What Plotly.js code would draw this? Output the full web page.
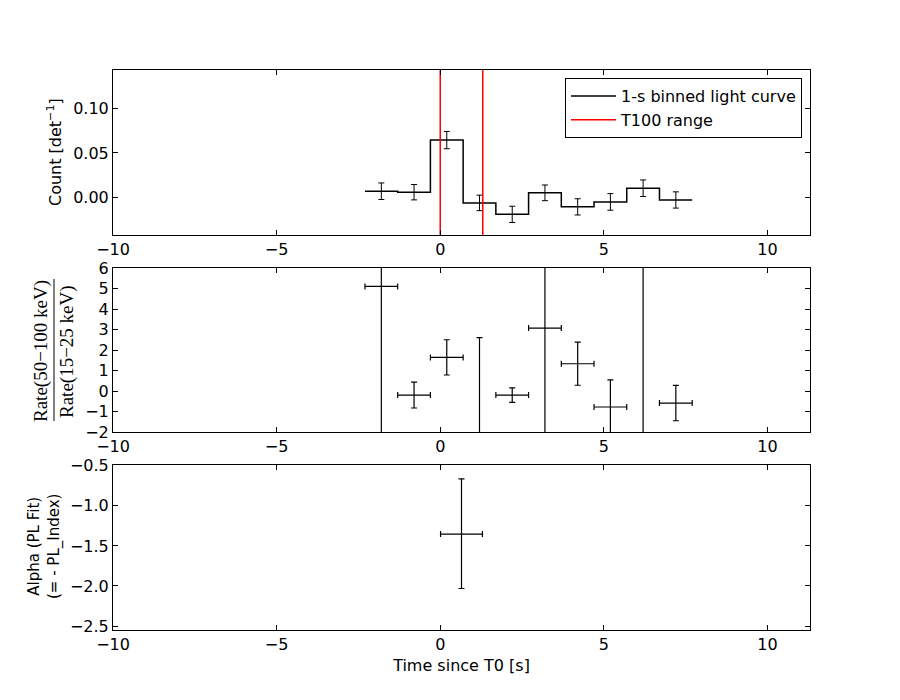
<!DOCTYPE html>
<html>
<head>
<meta charset="utf-8">
<script src="https://cdn.plot.ly/plotly-3.0.1.min.js"></script>
<style>html,body{margin:0;padding:0;background:#fff;}#chart{width:900px;height:700px;}</style>
</head>
<body>
<div id="chart"></div>
<script>
// ---- data ----
const binEdges = [-2.3, -1.3, -0.3, 0.7, 1.7, 2.7, 3.7, 4.7, 5.7, 6.7, 7.7];
const binCenters = [-1.8, -0.8, 0.2, 1.2, 2.2, 3.2, 4.2, 5.2, 6.2, 7.2];
const counts = [0.0066, 0.0055, 0.0646, -0.0066, -0.0196, 0.0048, -0.0111, -0.0055, 0.0100, -0.0033];
const countErr = [0.0094, 0.0087, 0.0098, 0.0088, 0.0092, 0.0089, 0.0092, 0.0094, 0.0094, 0.0092];
const t100 = [0.0, 1.3];
const ratio = [5.1, -0.2, 1.64, -2.6, -0.2, 3.07, 1.33, -0.78, 7.5, -0.59];
const ratioErr = [9.0, 0.63, 0.86, 5.2, 0.35, 8.0, 1.05, 1.32, 12.0, 0.86];
const ratioXErr = [0.5, 0.5, 0.5, 0.5, 0.5, 0.5, 0.5, 0.5, 0.5, 0.5];
const alphaT = [0.65];
const alphaVal = [-1.352];
const alphaErrPlus = [0.69];
const alphaErrMinus = [0.68];
const alphaXErr = [0.64];
const xRange = [-10, 11.3];
const y1Range = [-0.043, 0.144];
const y2Range = [-2, 6];
const y3Range = [-2.55, -0.49];

// ---- traces ----
const stepY = counts.concat([counts[counts.length - 1]]);
const font = {family: 'DejaVu Sans', size: 16, color: '#000'};
const traces = [
  {x: binEdges, y: stepY, mode: 'lines', line: {shape: 'hv', color: '#000', width: 1.5},
   name: '1-s binned light curve', xaxis: 'x', yaxis: 'y'},
  {x: binCenters, y: counts, mode: 'markers', marker: {size: 1, color: '#000', opacity: 0},
   error_y: {type: 'data', array: countErr, color: '#000', thickness: 1, width: 3},
   showlegend: false, hoverinfo: 'skip', xaxis: 'x', yaxis: 'y'},
  {x: [t100[0], t100[0], null, t100[1], t100[1]],
   y: [y1Range[0], y1Range[1], null, y1Range[0], y1Range[1]],
   mode: 'lines', line: {color: '#ff0000', width: 1.5}, name: 'T100 range', xaxis: 'x', yaxis: 'y'},
  {x: binCenters, y: ratio, mode: 'markers', marker: {size: 1, color: '#000', opacity: 0},
   error_y: {type: 'data', array: ratioErr, color: '#000', thickness: 1.2, width: 3},
   error_x: {type: 'data', array: ratioXErr, color: '#000', thickness: 1.2, width: 3},
   showlegend: false, hoverinfo: 'skip', xaxis: 'x2', yaxis: 'y2'},
  {x: alphaT, y: alphaVal, mode: 'markers', marker: {size: 1, color: '#000', opacity: 0},
   error_y: {type: 'data', symmetric: false, array: alphaErrPlus, arrayminus: alphaErrMinus, color: '#000', thickness: 1.2, width: 3},
   error_x: {type: 'data', array: alphaXErr, color: '#000', thickness: 1.2, width: 3},
   showlegend: false, hoverinfo: 'skip', xaxis: 'x3', yaxis: 'y3'}
];

function xa(anchor) {
  return {domain: [113/900, 810/900], range: xRange, anchor: anchor, showgrid: false, zeroline: false,
    showline: true, linecolor: '#000', linewidth: 1, mirror: 'allticks', ticks: 'inside', ticklen: 5,
    tickcolor: '#000', tickvals: [-10, -5, 0, 5, 10], tickfont: font};
}
function ya(anchor, dom, rng, tv, fmt) {
  return {domain: dom, range: rng, anchor: anchor, showgrid: false, zeroline: false,
    showline: true, linecolor: '#000', linewidth: 1, mirror: 'allticks', ticks: 'inside', ticklen: 5,
    tickcolor: '#000', tickvals: tv, tickformat: fmt, tickfont: font};
}

const layout = {
  width: 900, height: 700, margin: {l: 0, r: 0, t: 0, b: 0},
  paper_bgcolor: '#fff', plot_bgcolor: '#fff', font: font,
  showlegend: true,
  legend: {x: 802/900, y: 1 - 78/700, xanchor: 'right', yanchor: 'top', bgcolor: '#fff',
    bordercolor: '#000', borderwidth: 1, itemwidth: 45, tracegroupgap: 0,
    font: {family: 'DejaVu Sans', size: 16, color: '#000'}},
  xaxis: xa('y'), xaxis2: xa('y2'), xaxis3: Object.assign(xa('y3'), {title: {text: 'Time since T0 [s]', font: {family: 'DejaVu Sans', size: 16}, standoff: 6}}),
  yaxis: ya('x', [1 - 235/700, 1 - 70/700], y1Range, [0, 0.05, 0.10], '.2f'),
  yaxis2: ya('x2', [1 - 432/700, 1 - 268/700], y2Range, [-2, -1, 0, 1, 2, 3, 4, 5, 6], 'd'),
  yaxis3: ya('x3', [1 - 630/700, 1 - 465/700], y3Range, [-2.5, -2.0, -1.5, -1.0, -0.5], '.1f'),
  annotations: [
    {xref: 'paper', yref: 'paper', x: 55/900, y: 1 - 152/700, text: 'Count [det<sup>−1</sup>]', textangle: -90,
     showarrow: false, font: {family: 'DejaVu Sans', size: 16}, xanchor: 'center', yanchor: 'middle'},
    {xref: 'paper', yref: 'paper', x: 41/900, y: 1 - 351/700, text: 'Rate(50−100 keV)', textangle: -90,
     showarrow: false, font: {family: 'Liberation Serif', size: 19}, xanchor: 'center', yanchor: 'middle'},
    {xref: 'paper', yref: 'paper', x: 67/900, y: 1 - 352/700, text: 'Rate(15−25 keV)', textangle: -90,
     showarrow: false, font: {family: 'Liberation Serif', size: 19}, xanchor: 'center', yanchor: 'middle'},
    {xref: 'paper', yref: 'paper', x: 44/900, y: 1 - 547/700, text: 'Alpha (PL Fit)<br>(= - PL_Index)', textangle: -90,
     showarrow: false, font: {family: 'DejaVu Sans', size: 15}, xanchor: 'center', yanchor: 'middle'}
  ],
  shapes: [
    {type: 'line', xref: 'paper', yref: 'paper', x0: 54/900, x1: 54/900, y0: 1 - 279/700, y1: 1 - 421/700,
     line: {color: '#000', width: 1}}
  ]
};

Plotly.newPlot('chart', traces, layout, {displayModeBar: false, staticPlot: true});
</script>
</body>
</html>
